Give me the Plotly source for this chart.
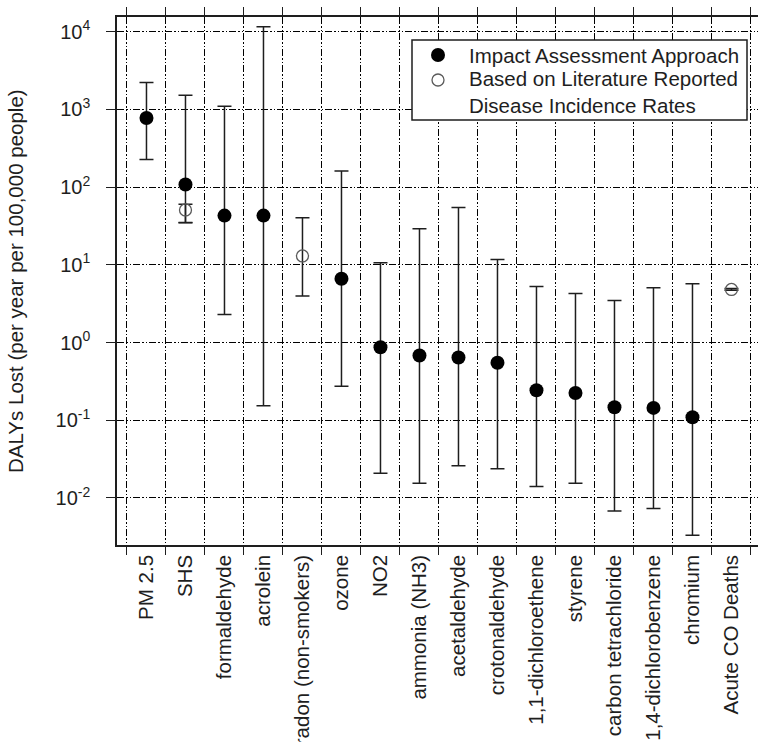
import plotly.graph_objects as go

# Pollutant categories along the x axis, in plotting order
categories = [
    "PM 2.5", "SHS", "formaldehyde", "acrolein", "radon (non-smokers)",
    "ozone", "NO2", "ammonia (NH3)", "acetaldehyde", "crotonaldehyde",
    "1,1-dichloroethene", "styrene", "carbon tetrachloride",
    "1,4-dichlorobenzene", "chromium", "Acute CO Deaths",
]

# Impact assessment approach: central estimate with lower / upper bounds
impact_cats = [
    "PM 2.5", "SHS", "formaldehyde", "acrolein", "ozone", "NO2",
    "ammonia (NH3)", "acetaldehyde", "crotonaldehyde", "1,1-dichloroethene",
    "styrene", "carbon tetrachloride", "1,4-dichlorobenzene", "chromium",
]
impact_mid = [776, 108, 43, 43, 6.6, 0.87, 0.68, 0.64, 0.55, 0.243, 0.224, 0.147, 0.144, 0.109]
impact_lo = [226, 35, 2.29, 0.153, 0.274, 0.0208, 0.0154, 0.0259, 0.0237, 0.0140, 0.0154, 0.0068, 0.0073, 0.0033]
impact_hi = [2220, 1520, 1100, 11600, 161, 10.6, 29.0, 54.5, 11.7, 5.27, 4.26, 3.46, 5.06, 5.72]

# Literature-reported disease incidence rates
lit_cats = ["SHS", "radon (non-smokers)", "Acute CO Deaths"]
lit_mid = [50.8, 13.0, 4.82]
lit_lo = [34.7, 3.98, 4.7]
lit_hi = [60.3, 40.4, 4.95]

# y-axis decade ticks
y_tickvals = [1e-2, 1e-1, 1e0, 1e1, 1e2, 1e3, 1e4]
y_ticktext = ["10<sup>-2</sup>", "10<sup>-1</sup>", "10<sup>0</sup>", "10<sup>1</sup>",
              "10<sup>2</sup>", "10<sup>3</sup>", "10<sup>4</sup>"]

# Legend entries
legend_labels = ["Impact Assessment Approach",
                 "Based on Literature Reported<br>Disease Incidence Rates"]

INK = "#1e1e1e"
FONT = "Liberation Sans, Arial, sans-serif"
GRID_DASH = "7px,2px,1.5px,2px,1.5px,2px"

# Plot-area geometry in pixels (used to place the boxed legend)
W, H = 758, 742
ML, MR, MT, MB = 117, 0, 17, 197
PW, PH = W - ML - MR, H - MT - MB


def px_x(px):
    return (px - ML) / PW


def px_y(py):
    return (H - MB - py) / PH


def err_plus(mid, hi):
    return [h - m for m, h in zip(mid, hi)]


def err_minus(mid, lo):
    return [m - l for m, l in zip(mid, lo)]


fig = go.Figure()

fig.add_trace(go.Scatter(
    x=impact_cats, y=impact_mid, mode="markers",
    name=legend_labels[0],
    marker=dict(symbol="circle", size=14, color="black", line=dict(width=0)),
    error_y=dict(type="data", symmetric=False,
                 array=err_plus(impact_mid, impact_hi),
                 arrayminus=err_minus(impact_mid, impact_lo),
                 color=INK, thickness=1.5, width=7),
))

fig.add_trace(go.Scatter(
    x=lit_cats, y=lit_mid, mode="markers",
    name=legend_labels[1],
    marker=dict(symbol="circle-open", size=12, color="#5a5a5a", line=dict(width=1.3)),
    error_y=dict(type="data", symmetric=False,
                 array=err_plus(lit_mid, lit_hi),
                 arrayminus=err_minus(lit_mid, lit_lo),
                 color=INK, thickness=1.5, width=7),
))

# Boxed legend drawn in paper coordinates
legend_shapes = [
    dict(type="rect", xref="paper", yref="paper",
         x0=px_x(412), x1=px_x(747), y0=px_y(120), y1=px_y(40),
         fillcolor="white", line=dict(color=INK, width=1.5), layer="above"),
    dict(type="circle", xref="paper", yref="paper",
         xsizemode="pixel", ysizemode="pixel",
         xanchor=px_x(438), yanchor=px_y(55),
         x0=-7, x1=7, y0=-7, y1=7,
         fillcolor="black", line=dict(color="black", width=0), layer="above"),
    dict(type="circle", xref="paper", yref="paper",
         xsizemode="pixel", ysizemode="pixel",
         xanchor=px_x(438), yanchor=px_y(80),
         x0=-6, x1=6, y0=-6, y1=6,
         fillcolor="white", line=dict(color="#5a5a5a", width=1.3), layer="above"),
]

legend_texts = [
    dict(text=legend_labels[0], xref="paper", yref="paper",
         x=px_x(467), y=px_y(55), xanchor="left", yanchor="middle",
         showarrow=False, align="left", font=dict(size=20.5, color=INK)),
    dict(text=legend_labels[1], xref="paper", yref="paper",
         x=px_x(467), y=px_y(92.5), xanchor="left", yanchor="middle",
         showarrow=False, align="left", font=dict(size=20.5, color=INK)),
]

fig.update_layout(
    width=W, height=H,
    margin=dict(l=ML, r=MR, t=MT, b=MB),
    paper_bgcolor="white", plot_bgcolor="white",
    font=dict(family=FONT, size=20.5, color=INK),
    showlegend=False,
    shapes=legend_shapes,
    annotations=[dict(
        text="DALYs Lost (per year per 100,000 people)",
        xref="paper", yref="paper", x=px_x(15), y=0.5,
        xanchor="center", yanchor="middle", textangle=-90,
        showarrow=False, font=dict(size=20.5, color=INK),
    )] + legend_texts,
)

fig.update_xaxes(
    type="category", categoryorder="array", categoryarray=categories,
    range=[-0.756, 15.68], tickson="boundaries",
    tickangle=-90, ticks="outside", ticklen=8, tickwidth=1.2, tickcolor=INK,
    showline=True, linecolor=INK, linewidth=1.5, mirror="ticks",
    showgrid=True, gridcolor="black", gridwidth=1, griddash=GRID_DASH,
    tickfont=dict(size=20.5, color=INK), automargin=False, fixedrange=True,
)

fig.update_yaxes(
    type="log", range=[-2.606, 4.189],
    tickvals=y_tickvals, ticktext=y_ticktext,
    ticks="outside", ticklen=9, tickwidth=1.2, tickcolor=INK,
    ticklabelstandoff=12,
    showline=True, linecolor=INK, linewidth=1.5,
    showgrid=True, gridcolor="black", gridwidth=1, griddash=GRID_DASH,
    zeroline=False, tickfont=dict(size=20, color=INK), automargin=False,
)

fig.write_html("out.html")
